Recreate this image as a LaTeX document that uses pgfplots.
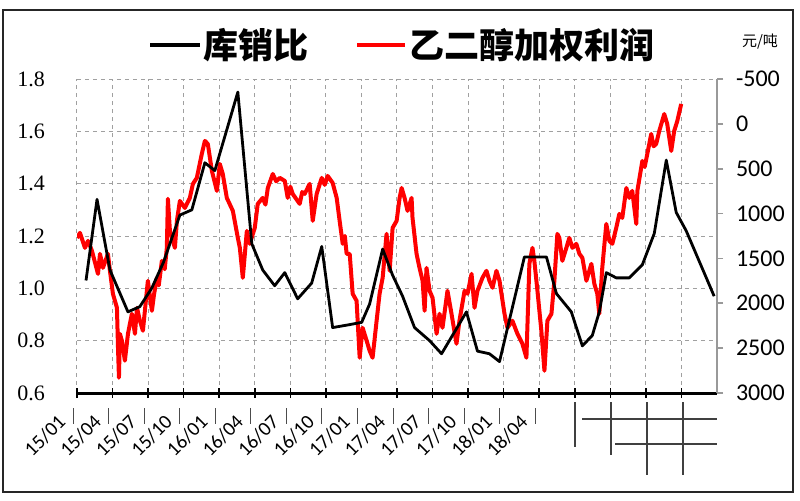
\documentclass[border=0pt]{standalone}
\usepackage{pgfplots}
\pgfplotsset{compat=1.18}
\usepackage{fontspec}
\setmainfont{Liberation Serif}
\newfontfamily\carlito{Carlito}
\newfontfamily\cjk{Noto Sans CJK SC}

\definecolor{profitred}{RGB}{255,0,0}
\definecolor{gridgray}{RGB}{160,160,160}

\begin{document}
\begin{tikzpicture}[x=0.5pt,y=0.5pt]
\useasboundingbox (0,0) rectangle (800,500);
\draw[line width=0.8pt, black!85] (3,8) rectangle (793,490);

% short marks under the date ticks
\foreach \m in {0,3,...,39} {
  \draw[black!70, line width=0.5pt] ({73+\m*11.852},92) -- ({73+\m*11.852},76);
}
% leftover table lines under the last ticks
\begin{scope}[black!75, line width=0.6pt]
\draw (575,98) -- (575,53);
\draw (611,98) -- (611,45);
\draw (647,98) -- (647,25);
\draw (683,98) -- (683,25);
\draw (582,81) -- (717,81);
\draw (615,56) -- (717,56);
\end{scope}

\pgfplotsset{
  base/.style={
    at={(198.5pt,132pt)}, anchor=center,
    scale only axis, width=320pt, height=157pt,
    xmin=0, xmax=54,
  },
}

% grid, left scale, date axis
\begin{axis}[base,
  ymin=0.6, ymax=1.8,
  ytick={0.6,0.8,1.0,1.2,1.4,1.6,1.8},
  axis x line*=bottom, axis y line*=left,
  x axis line style={black, line width=1.5pt, -},
  y axis line style={draw=none},
  xtick={0,3,...,51},
  xticklabels={15/01,15/04,15/07,15/10,16/01,16/04,16/07,16/10,17/01,17/04,17/07,17/10,18/01,18/04,,,,},
  xtick style={black, line width=0.8pt},
  ytick style={draw=none},
  tick align=center,
  major tick length=5pt,
  grid=major,
  major grid style={gridgray, line width=0.5pt, dash pattern=on 2pt off 2pt},
  xticklabel style={font=\carlito\fontsize{10}{10}\selectfont, xshift=-5pt, yshift=-8pt, rotate=45, anchor=east},
  yticklabel style={font=\fontsize{11}{11}\selectfont, xshift=-10pt,
    /pgf/number format/fixed, /pgf/number format/fixed zerofill,
    /pgf/number format/precision=1},
  /pgf/number format/assume math mode=true,
]
\end{axis}

% profit, right scale (reversed)
\begin{axis}[base,
  ymin=-500, ymax=3000, y dir=reverse,
  axis x line=none, axis y line*=right,
  y axis line style={gray!80, line width=1pt, -},
  ytick={-500,0,...,3000},
  ytick style={gray!80, line width=0.8pt},
  tick align=outside, major tick length=3pt,
  yticklabel style={font=\carlito\fontsize{12}{12}\selectfont, xshift=3pt},
  /pgf/number format/1000 sep={},
  /pgf/number format/assume math mode=true,
]
\addplot[profitred, line width=2pt, line join=round] coordinates {
(0,1271) (0.25,1215) (0.67,1382) (0.93,1304) (1.26,1415) (1.77,1672) (1.94,1449)
(2.19,1605) (2.61,1449) (2.78,1638) (3.03,1894) (3.37,2050) (3.46,2496) (3.54,2830)
(3.62,2340) (3.79,2418) (4.04,2640) (4.30,2340) (4.63,2117) (4.89,2340) (5.06,2050)
(5.31,2195) (5.56,2306) (5.98,1749) (6.32,2084) (6.5,1900) (6.74,1716) (6.9,1800)
(7.16,1527) (7.4,1620) (7.58,1382) (7.67,836) (7.84,1193) (8.26,1382) (8.43,1081)
(8.68,859) (9.10,937) (9.52,825) (9.78,669) (10.11,602) (10.53,335) (10.79,190)
(11.04,224) (11.38,524) (11.80,747) (12.05,447) (12.30,558) (12.64,825) (13.15,970)
(13.57,1271) (13.74,1382) (13.99,1716) (14.33,1193) (14.58,1337) (15.00,1159)
(15.25,892) (15.67,825) (15.9,900) (16.10,714) (16.52,558) (16.8,640) (17.11,602)
(17.53,636) (17.78,825) (18.0,700) (18.20,781) (18.79,892) (19.0,760) (19.21,781)
(19.63,669) (19.89,1081) (20.22,781) (20.65,602) (20.9,680)
(21.15,580) (21.57,658) (21.91,825) (22.16,1081) (22.42,1337) (22.6,1250) (22.75,1449)
(23.01,1449) (23.26,1894) (23.59,1972) (23.68,2195) (23.85,2607) (24.10,2273) (24.44,2418)
(24.69,2529) (24.94,2607) (25.28,2195) (25.53,1894) (25.79,1716) (26.12,1226)
(26.38,1638) (26.63,1159) (26.97,1081) (27.22,825) (27.39,714) (27.64,825) (27.89,970)
(28.23,825) (28.31,1048) (28.65,1449) (28.90,1605) (29.16,1749) (29.33,2084)
(29.49,1605) (29.75,1861) (30.00,1939) (30.34,2340) (30.59,2117) (30.84,2273)
(31.26,1861) (31.60,2117) (32.02,2451) (32.27,2195) (32.70,1861) (32.95,1894)
(33.29,1672) (33.54,2050) (33.79,1861) (34.21,1716) (34.55,1638) (34.80,1749)
(35.06,1827) (35.39,1638) (35.65,1749) (36.07,2117) (36.32,2273) (36.74,2195)
(37.16,2340) (37.58,2451) (37.92,2607) (38.17,1560) (38.43,1382) (38.59,1527)
(38.85,1861) (39.18,2306) (39.44,2752) (39.69,2195) (40.03,2117) (40.28,1749)
(40.53,1226) (40.70,1271) (40.95,1527) (41.29,1382) (41.54,1271) (41.80,1382)
(42.13,1337) (42.39,1449) (42.64,1493) (42.98,1749) (43.40,1560) (43.65,1783)
(43.90,1894) (44.07,2117) (44.32,1605) (44.66,1115) (44.92,1304) (45.17,1337)
(45.50,1159) (45.76,1003) (46.01,1048) (46.35,714) (46.60,825) (46.85,747)
(47.19,1115) (47.28,747) (47.70,413) (47.9,480) (48.12,335) (48.45,112) (48.65,250)
(48.87,224) (49.13,79) (49.55,-110) (49.80,1) (50.14,302) (50.39,79) (50.65,-32)
(50.98,-222)
};
\end{axis}

% stock-to-sales ratio, left scale
\begin{axis}[base, ymin=0.6, ymax=1.8, hide axis]
\addplot[black, line width=1.4pt, line join=round] coordinates {
(0.76,1.03) (1.69,1.34) (2.78,1.07) (4.3,0.91) (5.3,0.93) (6.3,1.00) (7.3,1.10)
(8.68,1.28) (9.69,1.30) (10.79,1.48) (11.63,1.45) (13.57,1.75) (14.75,1.17)
(15.67,1.07) (16.68,1.01) (17.53,1.06) (18.62,0.96) (19.80,1.02) (20.65,1.16)
(21.57,0.85) (22.84,0.86) (24.02,0.87) (24.69,0.94) (25.79,1.15) (26.63,1.05)
(27.47,0.97) (28.48,0.85) (29.75,0.80) (30.76,0.75) (32.86,0.91) (33.79,0.76)
(34.80,0.75) (35.65,0.72) (37.75,1.12) (39.61,1.12) (40.45,0.98) (41.71,0.91)
(42.64,0.78) (43.48,0.82) (44.07,0.91) (44.66,1.06) (45.50,1.04) (46.60,1.04)
(47.70,1.09) (48.71,1.21) (49.72,1.49) (50.56,1.29) (51.40,1.22) (53.76,0.97)
};
\end{axis}

% legend
\draw[black, line width=2pt] (150,455) -- (200,455);
\node[anchor=west, inner sep=0pt] at (203,455) {\cjk\bfseries\fontsize{17.5}{18}\selectfont 库销比};
\draw[profitred, line width=2pt] (357,455) -- (405,455);
\node[anchor=west, inner sep=0pt] at (409,455) {\cjk\bfseries\fontsize{17.5}{18}\selectfont 乙二醇加权利润};
\node[inner sep=0pt] at (760,458) {\cjk\fontsize{7.5}{8}\selectfont 元/吨};
\end{tikzpicture}
\end{document}
